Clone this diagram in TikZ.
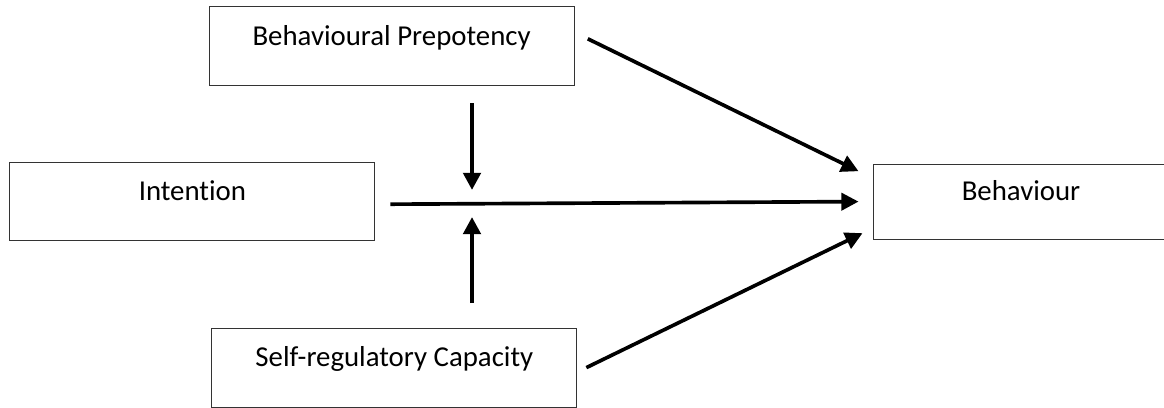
\documentclass[tikz,border=0pt]{standalone}
\usepackage{fontspec}
\setmainfont{Carlito}[Ligatures=NoCommon]
\usetikzlibrary{arrows.meta}
\usetikzlibrary{positioning}

\begin{document}
\begin{tikzpicture}
\tikzset{
box/.style={draw=black!80, line width=0.7pt, minimum width=9.125cm,
    minimum height=1.975cm, inner sep=0pt, text height=0.45cm,
    text depth=0.5cm, font=\fontsize{20.5}{24}\selectfont},
effect/.style={-{Triangle[length=0.43cm, width=0.43cm]}, line width=2.6pt},
moderator/.style={effect, line width=3.2pt}
 }
\useasboundingbox (0,0) rectangle (29.1,-10.2);
\node[box] (prepotency) at (9.79,-1.16) {Behavioural Prepotency};
\node[box, minimum height=1.95cm] (intention) at (4.81,-5.03) {Intention};
\node[box, minimum width=7.4cm, minimum height=1.875cm] (behaviour) at (25.525,-5.04) {Behaviour};
\node[box] (capacity) at (9.86,-9.19) {Self-regulatory Capacity};

\coordinate[above right=0.19cm and 0.33cm of prepotency.east] (p1);
\coordinate[above left=0.76cm and 0.35cm of behaviour.west] (b1);
\coordinate[below right=0.075cm and 0.375cm of intention.east] (i1);
\coordinate[left=0.35cm of behaviour.west] (b2);
\coordinate[right=0.225cm of capacity.east] (c1);
\coordinate[below left=0.79cm and 0.25cm of behaviour.west] (b3);
\draw[effect] (p1) -- (b1);
\draw[effect] (i1) -- (b2);
\draw[effect] (c1) -- (b3);

\coordinate (mod) at (11.8,-5.09);
\coordinate[above=2.51cm of mod] (m1);
\coordinate[above=0.34cm of mod] (m2);
\coordinate[below=2.49cm of mod] (m3);
\coordinate[below=0.335cm of mod] (m4);
\draw[moderator] (m1) -- (m2);
\draw[moderator] (m3) -- (m4);
\end{tikzpicture}
\end{document}
